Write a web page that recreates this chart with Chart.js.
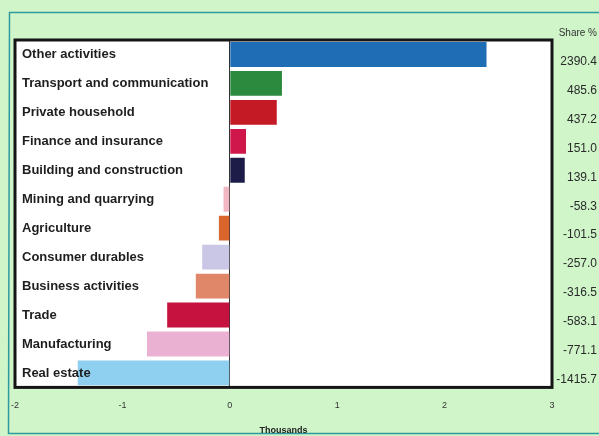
<!DOCTYPE html>
<html>
<head>
<meta charset="utf-8">
<script src="https://cdn.jsdelivr.net/npm/chart.js@4/dist/chart.umd.min.js"></script>
<style>
  html, body { margin: 0; padding: 0; background: #cff5c9; overflow: hidden; }
  canvas { display: block; }
</style>
</head>
<body>
<canvas id="c" width="599" height="436"></canvas>
<script>
// Employment change by sector (thousands)
const sectors = [
  'Other activities', 'Transport and communication', 'Private household',
  'Finance and insurance', 'Building and construction', 'Mining and quarrying',
  'Agriculture', 'Consumer durables', 'Business activities', 'Trade',
  'Manufacturing', 'Real estate'
];
const shareValues = [2390.4, 485.6, 437.2, 151.0, 139.1, -58.3, -101.5, -257.0, -316.5, -583.1, -771.1, -1415.7];
const barColors = [
  '#1f6db5', '#2b8a3e', '#c41a26', '#d0174b', '#1d1c48', '#f1b7c2',
  '#d9642c', '#c9c6e6', '#e0876a', '#c5123f', '#ebb1d3', '#8fd0f0'
];
const xTicks = [-2, -1, 0, 1, 2, 3];

const thousands = shareValues.map(v => v / 1000);
const shareLabels = shareValues.map(v => v.toFixed(1));

// Outer teal frame, white plot background and black plot border
const framePlugin = {
  id: 'frame',
  beforeDraw(chart) {
    const { ctx, chartArea: a } = chart;
    ctx.save();
    ctx.strokeStyle = '#2f9a9e';
    ctx.lineWidth = 1.5;
    ctx.beginPath();
    ctx.moveTo(605, 12.5);
    ctx.lineTo(9.5, 12.5);
    ctx.lineTo(8.5, 433.5);
    ctx.lineTo(605, 433.5);
    ctx.stroke();
    ctx.fillStyle = '#ffffff';
    ctx.fillRect(a.left, a.top, a.right - a.left, a.bottom - a.top);
    ctx.restore();
  },
  afterDatasetsDraw(chart) {
    const { ctx, chartArea: a } = chart;
    ctx.save();
    ctx.strokeStyle = '#151515';
    ctx.lineWidth = 3;
    ctx.strokeRect(a.left, a.top, a.right - a.left, a.bottom - a.top);
    ctx.restore();
  }
};

new Chart(document.getElementById('c'), {
  type: 'bar',
  data: {
    labels: sectors,
    datasets: [{
      data: thousands,
      backgroundColor: barColors,
      borderWidth: 0,
      barPercentage: 0.86,
      categoryPercentage: 1.0
    }]
  },
  options: {
    indexAxis: 'y',
    responsive: false,
    animation: false,
    devicePixelRatio: 1,
    layout: { padding: { left: 15, right: 2, top: 22, bottom: 0 } },
    plugins: {
      legend: { display: false },
      tooltip: { enabled: false },
      title: {
        display: true,
        text: 'Share %',
        align: 'end',
        color: '#333',
        font: { family: 'Liberation Sans, Arial, sans-serif', size: 10, weight: 'normal' },
        padding: { top: 5, bottom: 1 }
      }
    },
    scales: {
      x: {
        type: 'linear',
        min: -2,
        max: 3,
        afterBuildTicks: s => { s.ticks = xTicks.map(v => ({ value: v })); },
        afterFit: s => { s.paddingLeft = 0; s.paddingRight = 0; },
        ticks: {
          color: '#333',
          font: { family: 'Liberation Sans, Arial, sans-serif', size: 9 },
          padding: 13
        },
        grid: {
          drawTicks: false,
          color: ctx => (ctx.tick && ctx.tick.value === 0 ? '#333' : 'rgba(0,0,0,0)'),
          lineWidth: 1
        },
        border: { display: false },
        title: {
          display: true,
          text: 'Thousands',
          color: '#222',
          font: { family: 'Liberation Sans, Arial, sans-serif', size: 9, weight: 'bold' },
          padding: { top: 1, bottom: 0 }
        }
      },
      y: {
        type: 'category',
        position: 'left',
        offset: true,
        afterFit: s => { s.width = 0; },
        ticks: {
          z: 1,
          mirror: true,
          padding: 7,
          color: '#1e1e1e',
          font: { family: 'Liberation Sans, Arial, sans-serif', size: 13, weight: 'bold' }
        },
        grid: { display: false, drawTicks: false },
        border: { display: false }
      },
      share: {
        type: 'category',
        position: 'right',
        labels: shareLabels,
        offset: true,
        afterFit: s => { s.width = 45; },
        ticks: {
          crossAlign: 'far',
          padding: 2,
          labelOffset: 7,
          color: '#2a2a2a',
          font: { family: 'Liberation Sans, Arial, sans-serif', size: 12 }
        },
        grid: { display: false, drawTicks: false },
        border: { display: false }
      }
    }
  },
  plugins: [framePlugin]
});
</script>
</body>
</html>
